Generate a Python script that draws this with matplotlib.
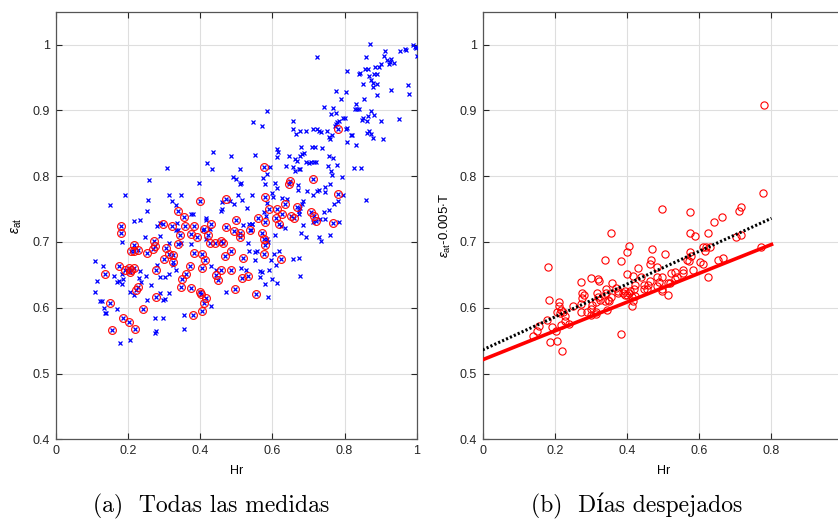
import numpy as np
import matplotlib.pyplot as plt
from matplotlib.ticker import FuncFormatter

plt.rcParams['font.family'] = ['Liberation Sans', 'DejaVu Sans']
plt.rcParams['mathtext.fontset'] = 'custom'
plt.rcParams['mathtext.rm'] = 'Liberation Sans'
plt.rcParams['mathtext.it'] = 'Liberation Sans:italic'

# (a) all measurements: cloudy points (blue x only)
hr_cloudy = [0.258, 0.398, 0.192, 0.151, 0.315, 0.346, 0.255, 0.323, 0.334, 0.461, 0.484, 0.494, 0.517, 0.504, 0.51,
             0.544, 0.53, 0.254, 0.233, 0.218, 0.374, 0.379, 0.415, 0.415, 0.458, 0.461, 0.29, 0.28, 0.337, 0.332,
             0.34, 0.407, 0.426, 0.518, 0.535, 0.544, 0.184, 0.247, 0.29, 0.314, 0.347, 0.374, 0.417, 0.533, 0.535,
             0.108, 0.131, 0.184, 0.162, 0.17, 0.175, 0.185, 0.183, 0.115, 0.232, 0.249, 0.233, 0.29, 0.302, 0.313,
             0.28, 0.326, 0.332, 0.43, 0.443, 0.513, 0.527, 0.314, 0.29, 0.302, 0.297, 0.253, 0.264, 0.235, 0.206,
             0.218, 0.127, 0.138, 0.134, 0.171, 0.274, 0.297, 0.355, 0.429, 0.472, 0.355, 0.274, 0.279, 0.177, 0.206,
             0.108, 0.123, 0.136,
             0.579, 0.607, 0.612, 0.672, 0.672, 0.697, 0.714, 0.725, 0.729, 0.745, 0.76, 0.747, 0.797, 0.859, 0.599,
             0.603, 0.628, 0.64, 0.685, 0.683, 0.678, 0.674, 0.674, 0.584, 0.577, 0.582, 0.623, 0.712, 0.732, 0.745,
             0.743, 0.756, 0.771, 0.782, 0.786, 0.686, 0.68, 0.693, 0.729, 0.736, 0.76, 0.636, 0.586, 0.588, 0.608,
             0.545, 0.54, 0.605, 0.618, 0.595, 0.609, 0.658, 0.675, 0.551, 0.558, 0.551, 0.565, 0.57, 0.591, 0.565,
             0.6, 0.614, 0.581, 0.678, 0.587,
             0.871, 0.725, 0.913, 0.908, 0.918, 0.927, 0.937, 0.902, 0.896, 0.884, 0.924, 0.93, 0.954, 0.967, 0.97,
             0.989, 0.996, 0.999, 1.0, 0.859, 0.808, 0.839, 0.843, 0.856, 0.865, 0.868, 0.882, 0.889, 0.874, 0.88,
             0.878, 0.889, 0.852, 0.976, 0.978, 0.93, 0.776, 0.805, 0.791, 0.889, 0.854, 0.743, 0.769, 0.762, 0.776,
             0.831, 0.828, 0.841, 0.834, 0.874, 0.865, 0.85, 0.848, 0.861, 0.882, 0.9, 0.95, 0.8, 0.797, 0.778,
             0.786, 0.773, 0.808, 0.775, 0.586, 0.547, 0.571, 0.656, 0.658, 0.666, 0.678, 0.692, 0.713, 0.725, 0.73,
             0.736, 0.752, 0.765, 0.761, 0.756, 0.804, 0.822, 0.819, 0.867, 0.863, 0.872, 0.878, 0.906, 0.806, 0.832,
             0.614, 0.617, 0.551, 0.612, 0.68, 0.678, 0.688, 0.683, 0.71, 0.717, 0.738, 0.664, 0.668, 0.647, 0.756,
             0.769, 0.715, 0.702, 0.706, 0.721, 0.692, 0.778, 0.754, 0.638, 0.657, 0.675, 0.678, 0.662, 0.762, 0.766,
             0.826, 0.845, 0.593, 0.585, 0.574, 0.793,
             0.436, 0.486, 0.418, 0.433, 0.308, 0.511, 0.49, 0.499, 0.512]
eps_cloudy = [0.794, 0.79, 0.772, 0.756, 0.771, 0.771, 0.764, 0.762, 0.756, 0.76, 0.762, 0.758, 0.764, 0.772, 0.788,
              0.771, 0.751, 0.747, 0.734, 0.732, 0.743, 0.743, 0.737, 0.733, 0.747, 0.75, 0.729, 0.724, 0.729, 0.718,
              0.718, 0.718, 0.72, 0.726, 0.728, 0.727, 0.7, 0.708, 0.709, 0.698, 0.699, 0.697, 0.704, 0.698, 0.687,
              0.671, 0.664, 0.652, 0.649, 0.639, 0.641, 0.644, 0.636, 0.641, 0.645, 0.649, 0.656, 0.647, 0.647, 0.652,
              0.665, 0.665, 0.657, 0.664, 0.657, 0.661, 0.658, 0.623, 0.622, 0.613, 0.612, 0.612, 0.634, 0.639, 0.624,
              0.619, 0.611, 0.592, 0.6, 0.598, 0.584, 0.584, 0.589, 0.603, 0.624, 0.567, 0.561, 0.565, 0.546, 0.551,
              0.624, 0.61, 0.592,
              0.788, 0.79, 0.782, 0.787, 0.779, 0.778, 0.771, 0.778, 0.779, 0.776, 0.788, 0.784, 0.771, 0.764, 0.774,
              0.768, 0.767, 0.765, 0.763, 0.758, 0.752, 0.747, 0.743, 0.759, 0.745, 0.739, 0.725, 0.731, 0.735, 0.735,
              0.746, 0.748, 0.757, 0.763, 0.73, 0.726, 0.714, 0.708, 0.708, 0.702, 0.711, 0.721, 0.704, 0.7, 0.711,
              0.728, 0.718, 0.681, 0.686, 0.672, 0.665, 0.674, 0.676, 0.685, 0.686, 0.672, 0.656, 0.654, 0.657, 0.646,
              0.643, 0.638, 0.636, 0.648, 0.616,
              1.001, 0.981, 0.99, 0.982, 0.977, 0.974, 0.972, 0.97, 0.966, 0.966, 0.971, 0.978, 0.99, 0.993, 0.992,
              1.0, 0.997, 0.995, 0.983, 0.981, 0.96, 0.956, 0.957, 0.963, 0.963, 0.952, 0.955, 0.956, 0.946, 0.942,
              0.936, 0.94, 0.94, 0.938, 0.925, 0.931, 0.93, 0.928, 0.917, 0.924, 0.917, 0.905, 0.903, 0.895, 0.896,
              0.91, 0.902, 0.902, 0.902, 0.899, 0.891, 0.888, 0.885, 0.884, 0.893, 0.884, 0.887, 0.889, 0.888, 0.883,
              0.884, 0.877, 0.873, 0.88, 0.899, 0.883, 0.876, 0.884, 0.872, 0.864, 0.868, 0.869, 0.871, 0.872, 0.869,
              0.867, 0.869, 0.863, 0.856, 0.859, 0.872, 0.862, 0.863, 0.869, 0.866, 0.864, 0.858, 0.856, 0.852, 0.847,
              0.841, 0.837, 0.832, 0.829, 0.844, 0.831, 0.835, 0.834, 0.844, 0.845, 0.843, 0.826, 0.823, 0.83, 0.83,
              0.828, 0.821, 0.82, 0.821, 0.821, 0.821, 0.817, 0.816, 0.816, 0.814, 0.811, 0.811, 0.808, 0.808, 0.802,
              0.812, 0.813, 0.814, 0.804, 0.797, 0.799,
              0.837, 0.83, 0.82, 0.811, 0.812, 0.811, 0.798, 0.795, 0.789]

# (a) clear-day points (blue x with red circle)
hr_clear_a = [0.4, 0.472, 0.339, 0.356, 0.5, 0.181, 0.181, 0.298, 0.323, 0.357, 0.384, 0.43, 0.411, 0.471, 0.494,
              0.51, 0.51, 0.537, 0.217, 0.209, 0.218, 0.228, 0.252, 0.272, 0.275, 0.305, 0.315, 0.326, 0.324, 0.345,
              0.339, 0.375, 0.384, 0.39, 0.404, 0.422, 0.426, 0.441, 0.457, 0.463, 0.413, 0.468, 0.485, 0.518, 0.174,
              0.193, 0.203, 0.209, 0.216, 0.206, 0.137, 0.278, 0.3, 0.35, 0.36, 0.371, 0.406, 0.459, 0.485, 0.445,
              0.45, 0.517, 0.533, 0.376, 0.4, 0.402, 0.415, 0.412, 0.406, 0.38, 0.348, 0.277, 0.229, 0.222, 0.149,
              0.243, 0.186, 0.204, 0.219, 0.155, 0.496, 0.27,
              0.647, 0.782, 0.579, 0.592, 0.614, 0.628, 0.61, 0.559, 0.581, 0.619, 0.635, 0.669, 0.651, 0.66, 0.707,
              0.716, 0.721, 0.767, 0.57, 0.576, 0.581, 0.578, 0.625, 0.556, 0.782, 0.577, 0.712, 0.649]
eps_clear_a = [0.762, 0.765, 0.747, 0.738, 0.734, 0.724, 0.713, 0.728, 0.724, 0.725, 0.725, 0.728, 0.72, 0.723, 0.717,
               0.714, 0.707, 0.718, 0.695, 0.687, 0.687, 0.688, 0.683, 0.701, 0.694, 0.691, 0.682, 0.67, 0.68, 0.711,
               0.697, 0.712, 0.683, 0.707, 0.682, 0.711, 0.698, 0.698, 0.702, 0.698, 0.672, 0.678, 0.686, 0.675, 0.664,
               0.657, 0.66, 0.657, 0.661, 0.655, 0.651, 0.657, 0.674, 0.643, 0.652, 0.664, 0.66, 0.657, 0.658, 0.65,
               0.642, 0.645, 0.649, 0.63, 0.624, 0.621, 0.615, 0.607, 0.595, 0.589, 0.631, 0.616, 0.631, 0.627, 0.607,
               0.598, 0.584, 0.579, 0.567, 0.566, 0.629, 0.689,
               0.788, 0.773, 0.768, 0.75, 0.75, 0.743, 0.737, 0.736, 0.73, 0.728, 0.757, 0.753, 0.74, 0.737, 0.746,
               0.739, 0.732, 0.729, 0.714, 0.705, 0.695, 0.682, 0.674, 0.621, 0.871, 0.814, 0.796, 0.792]

# (b) clear days, corrected emissivity
hr_clear_b = [0.355, 0.404, 0.401, 0.182, 0.339, 0.384, 0.429, 0.4, 0.416, 0.272, 0.299, 0.319, 0.323, 0.438, 0.357,
              0.423, 0.276, 0.28, 0.276, 0.316, 0.319, 0.342, 0.342, 0.355, 0.347, 0.351, 0.37, 0.376, 0.374, 0.394,
              0.389, 0.394, 0.409, 0.4, 0.404, 0.42, 0.423, 0.414, 0.417, 0.414, 0.184, 0.21, 0.21, 0.218, 0.214,
              0.205, 0.223, 0.251, 0.271, 0.271, 0.289, 0.3, 0.302, 0.315, 0.324, 0.34, 0.3, 0.313, 0.315, 0.345,
              0.229, 0.227, 0.24, 0.216, 0.177, 0.155, 0.193, 0.15, 0.203, 0.138, 0.186, 0.205, 0.219, 0.382,
              0.779, 0.777, 0.497, 0.574, 0.716, 0.709, 0.663, 0.642, 0.574, 0.587, 0.624, 0.715, 0.703, 0.469, 0.506,
              0.466, 0.463, 0.484, 0.574, 0.578, 0.611, 0.618, 0.631, 0.615, 0.565, 0.572, 0.601, 0.61, 0.653, 0.666,
              0.77, 0.624, 0.556, 0.556, 0.582, 0.532, 0.521, 0.52, 0.514, 0.496, 0.483, 0.538, 0.532, 0.487, 0.484,
              0.463, 0.459, 0.456, 0.448, 0.446, 0.496, 0.498, 0.513]
eps_clear_b = [0.714, 0.694, 0.684, 0.662, 0.673, 0.671, 0.66, 0.651, 0.648, 0.639, 0.645, 0.643, 0.641, 0.646, 0.637,
               0.634, 0.622, 0.619, 0.615, 0.622, 0.617, 0.629, 0.623, 0.616, 0.612, 0.61, 0.63, 0.626, 0.622, 0.626,
               0.623, 0.619, 0.626, 0.62, 0.622, 0.629, 0.618, 0.616, 0.61, 0.603, 0.612, 0.608, 0.603, 0.597, 0.592,
               0.593, 0.594, 0.602, 0.605, 0.594, 0.594, 0.598, 0.604, 0.609, 0.612, 0.611, 0.589, 0.591, 0.593, 0.596,
               0.587, 0.58, 0.575, 0.574, 0.582, 0.572, 0.571, 0.565, 0.565, 0.557, 0.548, 0.549, 0.534, 0.56,
               0.908, 0.774, 0.75, 0.745, 0.753, 0.747, 0.738, 0.73, 0.714, 0.709, 0.713, 0.711, 0.707, 0.69, 0.682,
               0.673, 0.667, 0.662, 0.684, 0.678, 0.692, 0.693, 0.692, 0.686, 0.673, 0.671, 0.67, 0.666, 0.673, 0.675,
               0.692, 0.646, 0.657, 0.653, 0.657, 0.655, 0.653, 0.638, 0.638, 0.647, 0.646, 0.646, 0.643, 0.639, 0.633,
               0.64, 0.635, 0.628, 0.635, 0.628, 0.628, 0.626, 0.62]

# fitted lines in (b): intercept, slope
fit_red = (0.521, 0.219)
fit_black = (0.536, 0.25)
fit_range = [0, 0.8]

fig = plt.figure(figsize=(8.38, 5.23), dpi=100)
ax1 = fig.add_axes([0.0665, 0.160, 0.4308, 0.8176])
ax2 = fig.add_axes([0.576, 0.160, 0.4308, 0.8176])

ax1.plot(hr_cloudy, eps_cloudy, 'x', color='blue', ms=3.3, mew=0.9, zorder=3)
ax1.plot(hr_clear_a, eps_clear_a, 'x', color='blue', ms=3.3, mew=0.9, zorder=3)
ax1.plot(hr_clear_a, eps_clear_a, 'o', mfc='none', mec='red', ms=5.6, mew=0.8, zorder=4)

ax2.plot(hr_clear_b, eps_clear_b, 'o', mfc='none', mec='red', ms=5.2, mew=0.8, zorder=3)
xf = np.array(fit_range)
ax2.plot(xf, fit_red[0] + fit_red[1] * xf, '-', color='red', lw=2.6, zorder=4)
ax2.plot(xf, fit_black[0] + fit_black[1] * xf, color='black', lw=2.2,
         linestyle=(0, (0.7, 0.7)), zorder=5)

fmt = FuncFormatter(lambda v, p: '%g' % round(v, 2))
for ax in (ax1, ax2):
    ax.set_xlim(0, 1)
    ax.set_ylim(0.4, 1.05)
    ax.set_yticks(np.arange(0.4, 1.01, 0.1))
    ax.yaxis.set_major_formatter(fmt)
    ax.grid(True, color='#dedede', lw=0.8)
    ax.set_axisbelow(True)
    ax.tick_params(direction='in', top=True, right=True, length=4, width=0.8,
                   labelsize=9, colors='#262626', pad=4)
    for s in ax.spines.values():
        s.set_color('#555555')
        s.set_linewidth(0.9)
    ax.set_xlabel('Hr', fontsize=9, labelpad=6)

ax1.set_xticks(np.arange(0, 1.01, 0.2))
ax1.xaxis.set_major_formatter(fmt)
# right panel is cut at the figure edge: the "1" tick label falls outside
ax2.set_xticks(np.arange(0, 1.01, 0.2))
ax2.set_xticklabels(['0', '0.2', '0.4', '0.6', '0.8', ''])

ax1.set_ylabel(r'$\varepsilon_{\mathrm{at}}$', fontsize=10, labelpad=6)
ax2.set_ylabel(r'$\varepsilon_{\mathrm{at}}$-0.005$\cdot$T', fontsize=9.5, labelpad=5)

cap_font = ['cmr10', 'DejaVu Serif']
fig.text(211 / 838, 1 - 506 / 523, '(a)  Todas las medidas', ha='center', va='center',
         fontsize=17, family=cap_font)
fig.text(637 / 838, 1 - 506 / 523, '(b)  Días despejados', ha='center', va='center',
         fontsize=17, family=cap_font)

plt.savefig('out.png', dpi=100)
